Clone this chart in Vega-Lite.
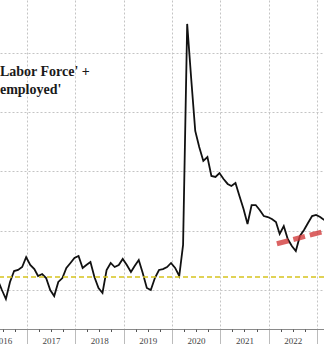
{
  "$schema": "https://vega.github.io/schema/vega-lite/v6.json",
  "width": 324,
  "height": 329,
  "autosize": "none",
  "padding": {"left": 0, "top": 0, "right": 0, "bottom": 15},
  "background": "white",
  "config": {"view": {"stroke": null}},
  "resolve": {"axis": {"x": "independent"}},
  "layer": [
    {
      "data": {"values": [
        {"date": "2016-05-25", "value": 10.84},
        {"date": "2016-06-25", "value": 10.00},
        {"date": "2016-07-25", "value": 9.24},
        {"date": "2016-08-25", "value": 10.68},
        {"date": "2016-09-25", "value": 11.60},
        {"date": "2016-10-25", "value": 11.69},
        {"date": "2016-11-25", "value": 11.94},
        {"date": "2016-12-25", "value": 12.78},
        {"date": "2017-01-25", "value": 12.11},
        {"date": "2017-02-25", "value": 11.77},
        {"date": "2017-03-25", "value": 11.18},
        {"date": "2017-04-25", "value": 11.35},
        {"date": "2017-05-25", "value": 11.01},
        {"date": "2017-06-25", "value": 10.00},
        {"date": "2017-07-25", "value": 9.49},
        {"date": "2017-08-25", "value": 10.68},
        {"date": "2017-09-25", "value": 11.01},
        {"date": "2017-10-25", "value": 11.86},
        {"date": "2017-11-25", "value": 12.28},
        {"date": "2017-12-25", "value": 12.70},
        {"date": "2018-01-25", "value": 12.87},
        {"date": "2018-02-25", "value": 11.86},
        {"date": "2018-03-25", "value": 12.11},
        {"date": "2018-04-25", "value": 12.36},
        {"date": "2018-05-25", "value": 11.10},
        {"date": "2018-06-25", "value": 10.17},
        {"date": "2018-07-25", "value": 9.75},
        {"date": "2018-08-25", "value": 11.69},
        {"date": "2018-09-25", "value": 12.28},
        {"date": "2018-10-25", "value": 11.94},
        {"date": "2018-11-25", "value": 12.11},
        {"date": "2018-12-25", "value": 12.62},
        {"date": "2019-01-25", "value": 12.11},
        {"date": "2019-02-25", "value": 11.52},
        {"date": "2019-03-25", "value": 12.03},
        {"date": "2019-04-25", "value": 12.53},
        {"date": "2019-05-25", "value": 11.43},
        {"date": "2019-06-25", "value": 10.17},
        {"date": "2019-07-25", "value": 10.00},
        {"date": "2019-08-25", "value": 11.01},
        {"date": "2019-09-25", "value": 11.69},
        {"date": "2019-10-25", "value": 11.77},
        {"date": "2019-11-25", "value": 11.94},
        {"date": "2019-12-25", "value": 12.28},
        {"date": "2020-01-25", "value": 11.86},
        {"date": "2020-02-25", "value": 11.18},
        {"date": "2020-03-25", "value": 13.80},
        {"date": "2020-04-25", "value": 32.45},
        {"date": "2020-05-25", "value": 27.89},
        {"date": "2020-06-25", "value": 23.42},
        {"date": "2020-07-25", "value": 22.07},
        {"date": "2020-08-25", "value": 20.89},
        {"date": "2020-09-25", "value": 21.22},
        {"date": "2020-10-25", "value": 19.62},
        {"date": "2020-11-25", "value": 19.54},
        {"date": "2020-12-25", "value": 19.87},
        {"date": "2021-01-25", "value": 19.37},
        {"date": "2021-02-25", "value": 18.95},
        {"date": "2021-03-25", "value": 18.78},
        {"date": "2021-04-25", "value": 19.03},
        {"date": "2021-05-25", "value": 17.93},
        {"date": "2021-06-25", "value": 16.84},
        {"date": "2021-07-25", "value": 15.57},
        {"date": "2021-08-25", "value": 17.17},
        {"date": "2021-09-25", "value": 17.17},
        {"date": "2021-10-25", "value": 16.75},
        {"date": "2021-11-25", "value": 16.24},
        {"date": "2021-12-25", "value": 16.16},
        {"date": "2022-01-25", "value": 15.99},
        {"date": "2022-02-25", "value": 15.74},
        {"date": "2022-03-25", "value": 14.73},
        {"date": "2022-04-25", "value": 15.40},
        {"date": "2022-05-25", "value": 14.30},
        {"date": "2022-06-25", "value": 13.71},
        {"date": "2022-07-25", "value": 13.29},
        {"date": "2022-08-25", "value": 14.56},
        {"date": "2022-09-25", "value": 15.06},
        {"date": "2022-10-25", "value": 15.65},
        {"date": "2022-11-25", "value": 16.24},
        {"date": "2022-12-25", "value": 16.33},
        {"date": "2023-01-25", "value": 16.16},
        {"date": "2023-02-25", "value": 15.91}
      ]},
      "mark": {"type": "line", "color": "#111111", "strokeWidth": 1.8, "clip": false},
      "encoding": {
        "x": {
          "field": "date", "type": "temporal",
          "scale": {"type": "utc", "nice": false,
            "domain": [{"year": 2015, "month": 3, "date": 15, "utc": true}, {"year": 2023, "month": 2, "date": 23, "utc": true}],
            "range": [-60, 324]},
          "axis": {
            "orient": "bottom", "title": null,
            "values": [
              {"year": 2016, "month": 1, "date": 1, "utc": true},
              {"year": 2017, "month": 1, "date": 1, "utc": true},
              {"year": 2018, "month": 1, "date": 1, "utc": true},
              {"year": 2019, "month": 1, "date": 1, "utc": true},
              {"year": 2020, "month": 1, "date": 1, "utc": true},
              {"year": 2021, "month": 1, "date": 1, "utc": true},
              {"year": 2022, "month": 1, "date": 1, "utc": true},
              {"year": 2023, "month": 1, "date": 1, "utc": true}
            ],
            "format": "%Y", "formatType": "utc",
            "labelExpr": "utcyear(datum.value) == 2023 ? '' : datum.label",
            "labelOffset": 24, "labelFlush": false, "labelBound": false, "labelOverlap": false,
            "labelPadding": -8, "labelFont": "Liberation Serif", "labelFontSize": 9, "labelColor": "#444444",
            "tickSize": 15, "tickColor": "#bbbbbb", "tickWidth": 1,
            "domain": true, "domainColor": "#8a8a8a", "domainWidth": 1,
            "grid": true, "gridColor": "#c4c4c4", "gridDash": [2, 2], "gridWidth": 1
          }
        },
        "y": {
          "field": "value", "type": "quantitative",
          "scale": {"domain": [6.71, 34.47], "nice": false, "zero": false},
          "axis": {
            "title": null, "values": [10, 15, 20, 25, 30, 35],
            "labels": false, "ticks": false, "domain": false,
            "grid": true, "gridColor": "#c4c4c4", "gridDash": [2, 2], "gridWidth": 1
          }
        }
      }
    },
    {
      "data": {"values": [{"level": 11.1}]},
      "mark": {"type": "rule", "color": "#d6c41e", "strokeWidth": 1.5, "strokeDash": [5, 3]},
      "encoding": {"y": {"field": "level", "type": "quantitative"}}
    },
    {
      "data": {"values": [
        {"date": "2022-03-04", "value": 13.90},
        {"date": "2023-02-23", "value": 14.94}
      ]},
      "mark": {"type": "line", "color": "#d23c3c", "opacity": 0.8, "strokeWidth": 5, "strokeDash": [12, 5], "strokeCap": "butt"},
      "encoding": {
        "x": {
          "field": "date", "type": "temporal",
          "axis": {
            "orient": "bottom", "title": null, "labels": false, "domain": false, "grid": false,
            "tickSize": 2.5, "tickColor": "#555555", "tickWidth": 1,
            "values": [
              {"year": 2016, "month": 7, "date": 1, "utc": true},
              {"year": 2016, "month": 10, "date": 1, "utc": true},
              {"year": 2017, "month": 4, "date": 1, "utc": true},
              {"year": 2017, "month": 7, "date": 1, "utc": true},
              {"year": 2017, "month": 10, "date": 1, "utc": true},
              {"year": 2018, "month": 4, "date": 1, "utc": true},
              {"year": 2018, "month": 7, "date": 1, "utc": true},
              {"year": 2018, "month": 10, "date": 1, "utc": true},
              {"year": 2019, "month": 4, "date": 1, "utc": true},
              {"year": 2019, "month": 7, "date": 1, "utc": true},
              {"year": 2019, "month": 10, "date": 1, "utc": true},
              {"year": 2020, "month": 4, "date": 1, "utc": true},
              {"year": 2020, "month": 7, "date": 1, "utc": true},
              {"year": 2020, "month": 10, "date": 1, "utc": true},
              {"year": 2021, "month": 4, "date": 1, "utc": true},
              {"year": 2021, "month": 7, "date": 1, "utc": true},
              {"year": 2021, "month": 10, "date": 1, "utc": true},
              {"year": 2022, "month": 4, "date": 1, "utc": true},
              {"year": 2022, "month": 7, "date": 1, "utc": true},
              {"year": 2022, "month": 10, "date": 1, "utc": true}
            ]
          }
        },
        "y": {"field": "value", "type": "quantitative"}
      }
    },
    {
      "data": {"values": [
        {"label": "Labor Force' +", "date": "2016-06-10", "value": 28.06},
        {"label": "employed'", "date": "2016-06-10", "value": 26.54}
      ]},
      "mark": {"type": "text", "align": "left", "baseline": "alphabetic", "font": "Liberation Serif", "fontSize": 14, "fontWeight": "bold", "color": "#1a1a1a"},
      "encoding": {
        "x": {"field": "date", "type": "temporal", "axis": null},
        "y": {"field": "value", "type": "quantitative"},
        "text": {"field": "label"}
      }
    }
  ]
}
